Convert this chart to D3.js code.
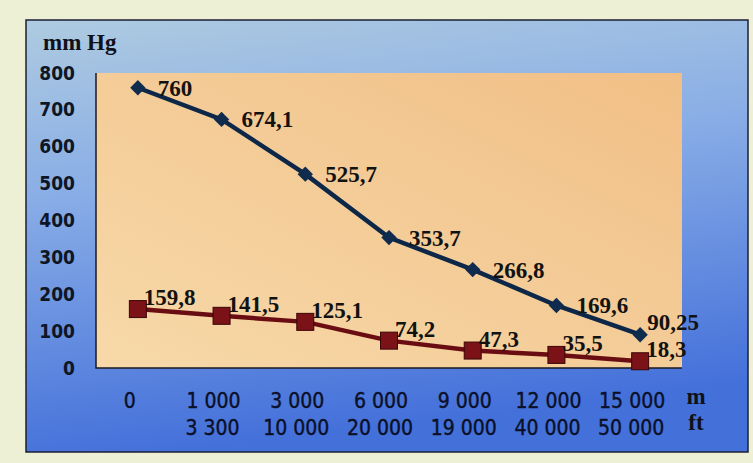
<!DOCTYPE html>
<html>
<head>
<meta charset="utf-8">
<script src="https://cdn.jsdelivr.net/npm/d3@7"></script>
<style>
  body { margin: 0; background: #eef0d6; }
  svg { display: block; }
</style>
</head>
<body>
<script>
// data
const altitudeM = ['0', '1 000', '3 000', '6 000', '9 000', '12 000', '15 000']
const altitudeFt = ['', '3 300', '10 000', '20 000', '19 000', '40 000', '50 000']
const pressureTotal = [760, 674.1, 525.7, 353.7, 266.8, 169.6, 90.25]
const pressureO2 = [159.8, 141.5, 125.1, 74.2, 47.3, 35.5, 18.3]
const yTicks = [0, 100, 200, 300, 400, 500, 600, 700, 800]

const width = 753
const height = 463
const plot = {left: 96, top: 73, right: 682, bottom: 368}

const fmt = v => String(v).replace('.', ',')
const serif = '"Liberation Serif", "Times New Roman", serif'
const sans = '"DejaVu Sans Condensed", "DejaVu Sans", sans-serif'

const svg = d3.select('body').append('svg')
  .attr('width', width)
  .attr('height', height)

const defs = svg.append('defs')
const bg = defs.append('linearGradient').attr('id', 'bg')
  .attr('x1', 0).attr('y1', 0).attr('x2', 0.2).attr('y2', 1)
bg.append('stop').attr('offset', '0%').attr('stop-color', '#aecbe0')
bg.append('stop').attr('offset', '40%').attr('stop-color', '#89ade6')
bg.append('stop').attr('offset', '100%').attr('stop-color', '#4470da')

const pa = defs.append('linearGradient').attr('id', 'pa')
  .attr('x1', 0).attr('y1', 1).attr('x2', 1).attr('y2', 0)
pa.append('stop').attr('offset', '0%').attr('stop-color', '#f7d9a9')
pa.append('stop').attr('offset', '100%').attr('stop-color', '#f1bf86')

// page + chart frame
svg.append('rect').attr('width', width).attr('height', height).attr('fill', '#eef0d6')
svg.append('rect')
  .attr('x', 26).attr('y', 20).attr('width', 722).attr('height', 432)
  .attr('fill', 'url(#bg)')
  .attr('stroke', '#1b1f33').attr('stroke-width', 1.5)

// plot area
svg.append('rect')
  .attr('x', plot.left).attr('y', plot.top)
  .attr('width', plot.right - plot.left).attr('height', plot.bottom - plot.top)
  .attr('fill', 'url(#pa)')

const x = d3.scalePoint().domain(d3.range(altitudeM.length))
  .range([plot.left, plot.right]).padding(0.5)
const y = d3.scaleLinear().domain([0, 800]).range([plot.bottom, plot.top])

// axis lines
svg.append('path')
  .attr('d', `M${plot.left},${plot.top}V${plot.bottom}H${plot.right}`)
  .attr('fill', 'none').attr('stroke', '#1a1a22').attr('stroke-width', 1.5)

// y axis
const yAxis = d3.axisLeft(y).tickValues(yTicks).tickSize(0).tickPadding(21)
const gy = svg.append('g').attr('transform', `translate(${plot.left},0)`).call(yAxis)
gy.select('.domain').remove()
gy.selectAll('text')
  .attr('font-family', sans).attr('font-size', 19).attr('font-weight', 'bold')
  .attr('fill', '#0e1626')

svg.append('text')
  .attr('x', 43).attr('y', 50)
  .attr('font-family', serif).attr('font-size', 23).attr('font-weight', 'bold')
  .attr('fill', '#101018')
  .text('mm Hg')

// x labels, two rows
const xl = svg.append('g')
  .attr('font-family', sans).attr('font-size', 21)
  .attr('fill', '#0b1028').attr('stroke', '#0b1028').attr('stroke-width', 0.4)
xl.selectAll('text.m').data(altitudeM).join('text')
  .attr('class', 'm')
  .attr('x', (d, i) => x(i) - 8).attr('y', 408)
  .attr('text-anchor', 'middle')
  .text(d => d)
xl.selectAll('text.ft').data(altitudeFt).join('text')
  .attr('class', 'ft')
  .attr('x', (d, i) => x(i) - 9).attr('y', 435)
  .attr('text-anchor', 'middle')
  .text(d => d)
svg.selectAll('text.unit').data(['m', 'ft']).join('text')
  .attr('class', 'unit')
  .attr('x', 696).attr('y', (d, i) => 404 + i * 26)
  .attr('text-anchor', 'middle')
  .attr('font-family', serif).attr('font-size', 23).attr('font-weight', 'bold')
  .attr('fill', '#101018')
  .text(d => d)

const line = d3.line().x((d, i) => x(i)).y(d => y(d))

// total pressure (blue, diamonds)
svg.append('path').datum(pressureTotal)
  .attr('d', line).attr('fill', 'none')
  .attr('stroke', '#0c2748').attr('stroke-width', 4.5)
svg.selectAll('path.dia').data(pressureTotal).join('path')
  .attr('class', 'dia')
  .attr('d', d3.symbol().type(d3.symbolDiamond2).size(150))
  .attr('transform', (d, i) => `translate(${x(i)},${y(d)})`)
  .attr('fill', '#0f2c4e')
svg.selectAll('text.lt').data(pressureTotal).join('text')
  .attr('class', 'lt')
  .attr('x', (d, i) => x(i) + (i === pressureTotal.length - 1 ? 7 : 20))
  .attr('y', (d, i) => y(d) + (i === pressureTotal.length - 1 ? -5 : 8))
  .attr('font-family', serif).attr('font-size', 23).attr('font-weight', 'bold')
  .attr('fill', '#121212')
  .text(d => fmt(d))

// oxygen partial pressure (red, squares)
svg.append('path').datum(pressureO2)
  .attr('d', line).attr('fill', 'none')
  .attr('stroke', '#6a0d12').attr('stroke-width', 4.5)
svg.selectAll('rect.sq').data(pressureO2).join('rect')
  .attr('class', 'sq')
  .attr('x', (d, i) => x(i) - 8.5).attr('y', d => y(d) - 8.5)
  .attr('width', 17).attr('height', 17)
  .attr('fill', '#7a1218').attr('stroke', '#3a0608').attr('stroke-width', 1)
svg.selectAll('text.lo').data(pressureO2).join('text')
  .attr('class', 'lo')
  .attr('x', (d, i) => x(i) + 6)
  .attr('y', d => y(d) - 4)
  .attr('font-family', serif).attr('font-size', 23).attr('font-weight', 'bold')
  .attr('fill', '#121212')
  .text(d => fmt(d))
</script>
</body>
</html>
